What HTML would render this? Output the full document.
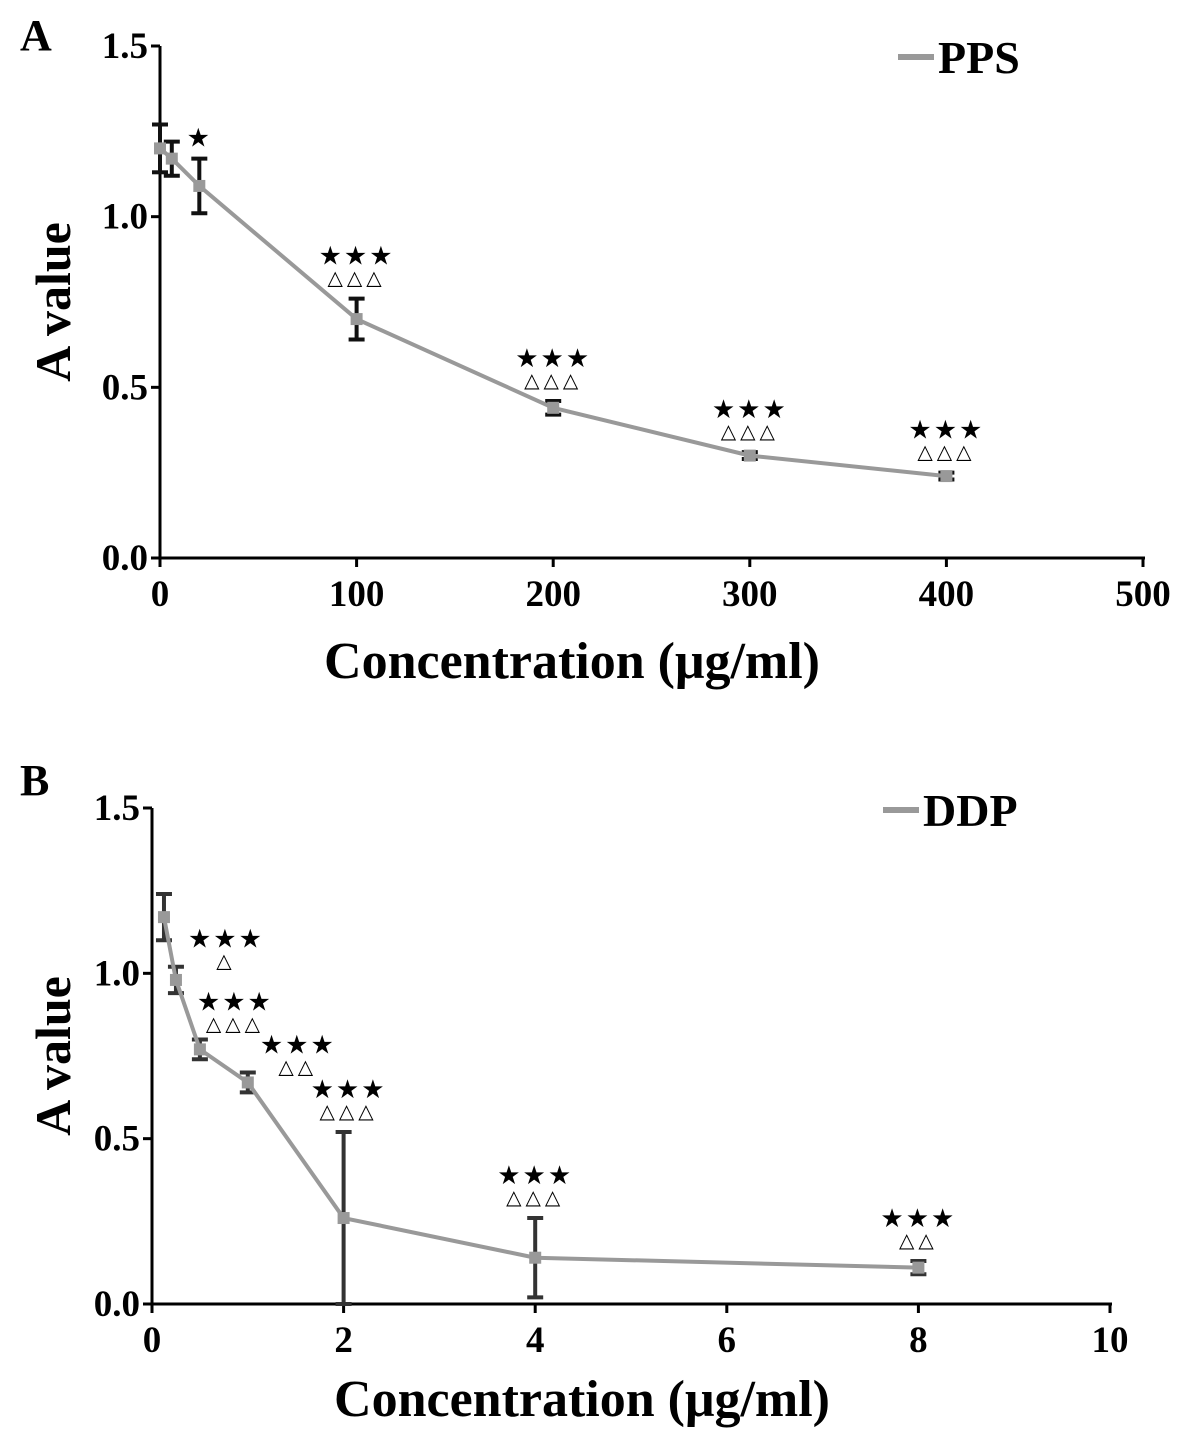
<!DOCTYPE html>
<html><head><meta charset="utf-8">
<style>
body{margin:0;background:#fff;}
svg{display:block;font-family:"Liberation Serif",serif;font-weight:bold;}
</style></head>
<body>
<svg id="chart" width="1183" height="1446" viewBox="0 0 1183 1446"></svg>
<script>
// Panel A data
const aConc = [0, 6, 20, 100, 200, 300, 400];
const aVal = [1.20, 1.17, 1.09, 0.70, 0.44, 0.30, 0.24];
const aErr = [0.07, 0.05, 0.08, 0.06, 0.02, 0.01, 0.01];
const aXTicks = [0, 100, 200, 300, 400, 500];
const aYTicks = [0.0, 0.5, 1.0, 1.5];
const aStars = ["", "", "★", "★★★", "★★★", "★★★", "★★★"];
const aTris = ["", "", "", "△△△", "△△△", "△△△", "△△△"];
// Panel B data
const bConc = [0.125, 0.25, 0.5, 1, 2, 4, 8];
const bVal = [1.17, 0.98, 0.77, 0.67, 0.26, 0.14, 0.11];
const bErr = [0.07, 0.04, 0.03, 0.03, 0.26, 0.12, 0.02];
const bXTicks = [0, 2, 4, 6, 8, 10];
const bYTicks = [0.0, 0.5, 1.0, 1.5];
const bStars = ["", "★★★", "★★★", "★★★", "★★★", "★★★", "★★★"];
const bTris = ["", "△", "△△△", "△△", "△△△", "△△△", "△△"];

const NS="http://www.w3.org/2000/svg";
const svg=document.getElementById('chart');
function mk(tag,attrs,parent,text){const e=document.createElementNS(NS,tag);for(const k in attrs)e.setAttribute(k,attrs[k]);if(text!==undefined)e.textContent=text;(parent||svg).appendChild(e);return e;}

function panel(o){
  const g=mk('g',{});
  
  
  const sx=v=>o.x0+(v-o.xmin)/(o.xmax-o.xmin)*(o.x1-o.x0);
  const sy=v=>o.y0-(v-0)/(1.5)*(o.y0-o.y1);
  const ax=mk('line',{x1:o.x0,y1:o.y0,x2:o.x1+2,y2:o.y0,stroke:'#000','stroke-width':3},g);
  
  const ay=mk('line',{x1:o.x0,y1:o.y0,x2:o.x0,y2:o.y1,stroke:'#000','stroke-width':3},g);
  
  o.xt.forEach(t=>{const x=sx(t);
    mk('line',{x1:x,y1:o.y0,x2:x,y2:o.y0+9,stroke:'#000','stroke-width':3},g);
    const l=mk('text',{x:x,y:o.y0+48,'text-anchor':'middle','font-size':37},g,String(t));
    });
  o.yt.forEach(t=>{const y=sy(t);
    mk('line',{x1:o.x0-9,y1:y,x2:o.x0,y2:y,stroke:'#000','stroke-width':3},g);
    const l=mk('text',{x:o.x0-12,y:y+12,'text-anchor':'end','font-size':37},g,t.toFixed(1));
    });
  const xt=mk('text',{x:o.titleX,y:o.y0+o.titleDy,'text-anchor':'middle','font-size':52},g,'Concentration (μg/ml)');
  
  const cy=(o.y0+o.y1)/2;
  const yt=mk('text',{x:0,y:0,transform:`translate(70,${cy}) rotate(-90)`,'text-anchor':'middle','font-size':50},g,'A value');
  
  const pl=mk('text',{x:o.labX,y:o.labY,'font-size':44},g,o.panel);
  
  mk('line',{x1:o.legX,y1:o.legY,x2:o.legX+36,y2:o.legY,stroke:'#999','stroke-width':6},g);
  const lt=mk('text',{x:o.legX+40,y:o.legY+16,'font-size':46},g,o.series);
  
  o.c.forEach((c,i)=>{const x=sx(c),t=sy(o.v[i]+o.e[i]),b=sy(Math.max(0,o.v[i]-o.e[i]));
    const eb=mk('g',{},g);
    mk('line',{x1:x,y1:t,x2:x,y2:b,stroke:o.ec,'stroke-width':4},eb);
    mk('line',{x1:x-8,y1:t,x2:x+8,y2:t,stroke:o.ec,'stroke-width':4},eb);
    mk('line',{x1:x-8,y1:b,x2:x+8,y2:b,stroke:o.ec,'stroke-width':4},eb);
    const ann=mk('g',{},g);
    const ax2=x+(o.dx[i]||0);
    if(o.tr[i]) mk('text',{x:ax2,y:t-14+(o.dy[i]||0),'text-anchor':'middle','font-size':20,'font-weight':'normal','letter-spacing':4},ann,o.tr[i]);
    if(o.st[i]) mk('text',{x:ax2,y:t-(o.tr[i]?34:12)+(o.dy[i]||0),'text-anchor':'middle','font-size':26,'font-weight':'normal','letter-spacing':2},ann,o.st[i]);
  });
  const pts=o.c.map((c,i)=>sx(c)+','+sy(o.v[i])).join(' ');
  const ln=mk('polyline',{points:pts,fill:'none',stroke:'#999','stroke-width':4},g);
  
  o.c.forEach((c,i)=>{const m=mk('rect',{x:sx(c)-6,y:sy(o.v[i])-6,width:12,height:12,fill:'#999'},g);
    });
}
panel({name:'panel-a',panel:'A',series:'PPS',x0:160,x1:1143,y0:558,y1:46,xmin:0,xmax:500,xt:aXTicks,yt:aYTicks,
  c:aConc,v:aVal,e:aErr,st:aStars,tr:aTris,ec:'#111',dx:[],dy:[0,0,0,0,0,0,0],labX:20,labY:50,legX:898,legY:57,titleX:572,titleDy:120});
panel({name:'panel-b',panel:'B',series:'DDP',x0:152,x1:1110,y0:1304,y1:808,xmin:0,xmax:10,xt:bXTicks,yt:bYTicks,
  c:bConc,v:bVal,e:bErr,st:bStars,tr:bTris,ec:'#333',dx:[0,50,35,50,5,0,0],dy:[0,15,5,15,0,0,0],labX:20,labY:795,legX:883,legY:810,titleX:582,titleDy:112});
</script>
</body></html>
